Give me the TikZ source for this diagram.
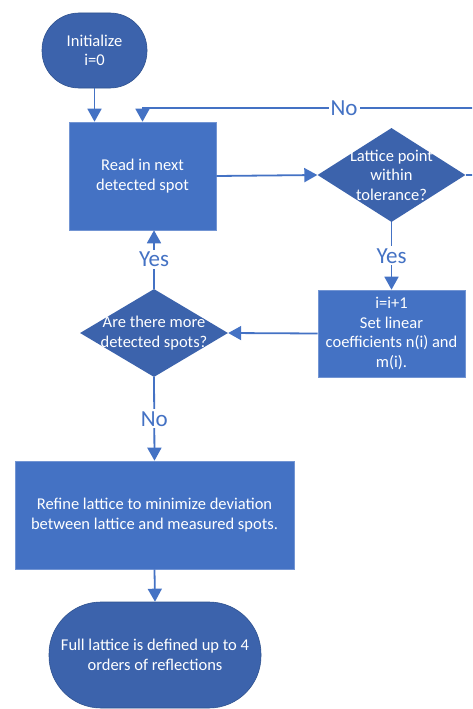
\documentclass[tikz,border=0pt]{standalone}
\usepackage{fontspec}
\setmainfont{Carlito}
\usetikzlibrary{shapes.geometric,arrows.meta}
\definecolor{boxblue}{HTML}{4472C4}
\definecolor{termblue}{HTML}{3C63AC}
\definecolor{rimblue}{HTML}{2F528F}

\begin{document}
\begin{tikzpicture}[x=1pt, y=-1pt,
every node/.style={font=\fontsize{16.5}{19.5}\selectfont, text=white, align=center, inner sep=0pt},
process/.style={rectangle, fill=boxblue, draw=boxblue!75!white, line width=0.6pt},
decision/.style={diamond, fill=termblue, minimum width=148pt, minimum height=94pt},
terminal/.style={rectangle, fill=termblue, draw=rimblue, line width=0.6pt},
answer/.style={fill=white, text=boxblue, font=\fontsize{23}{26}\selectfont, inner sep=2pt},
flow/.style={draw=boxblue, line width=1.8pt, -{Triangle[width=14pt,length=13pt]}}]
\clip (0,0) rectangle (472,709);

% shapes
\node[terminal, rounded corners=37pt, minimum width=105pt, minimum height=75pt] (init) at (94.5,50.5) {Initialize\\i=0};
\node[process, minimum width=147pt, minimum height=108pt] (read) at (142.5,176) {Read in next\\detected spot};
\node[decision, label={center:Lattice point\\within\\tolerance?}] (tol) at (391.5,175) {};
\node[process, minimum width=147pt, minimum height=87pt] (set) at (391.5,333.5) {i=i+1\\Set linear\\coefficients n(i) and\\m(i).};
\node[decision, minimum height=88pt, label={center:Are there more\\detected spots?}] (more) at (154,333) {};
\node[process, minimum width=279pt, minimum height=108pt] (refine) at (154.5,515) {Refine lattice to minimize deviation\\between lattice and measured spots.};
\node[terminal, rounded corners=52pt, minimum width=212pt, minimum height=106pt] (final) at (155,655) {Full lattice is defined up to 4\\orders of reflections};
\coordinate (loop) at (490,108);

% connectors
\draw[flow] (init.south) -- (init.south |- read.north);
\draw[flow] (read.east) -- (tol.west);
\draw[flow] (tol.east) -| (loop) -| node[answer, pos=0.21] {No} (read.north);
\draw[flow] (tol.south) -- node[answer] {Yes} (set.north);
\draw[flow] (set.west) -- (more.east);
\draw[flow] (more.north) -- node[answer] {Yes} (more.north |- read.south);
\draw[flow] (more.south) -- node[answer] {No} (refine.north);
\draw[flow] (refine.south) -- (final.north);
\end{tikzpicture}
\end{document}
